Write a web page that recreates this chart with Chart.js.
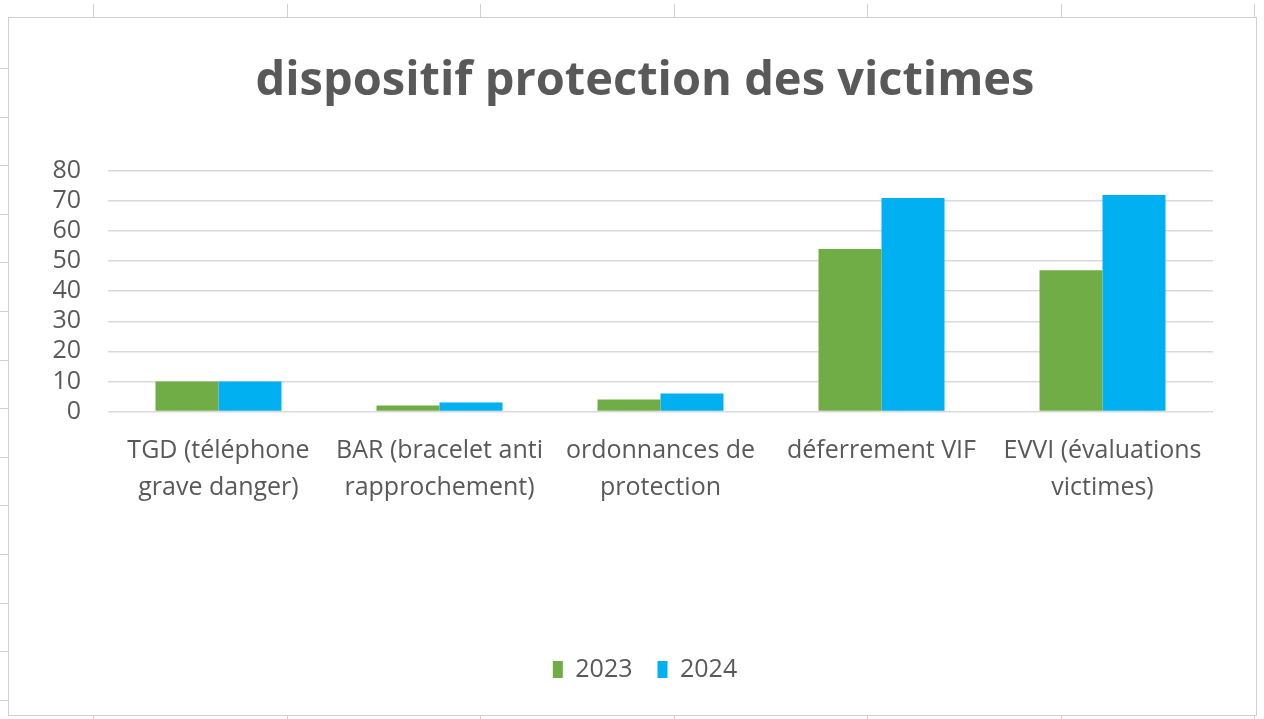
<!DOCTYPE html>
<html lang="fr">
<head>
<meta charset="utf-8">
<title>dispositif protection des victimes</title>
<script src="https://cdn.jsdelivr.net/npm/chart.js@4.4.1/dist/chart.umd.min.js"></script>
<style>
  html, body { margin: 0; padding: 0; background: #ffffff; }
  #wrap { position: relative; width: 1264px; height: 719px; }
</style>
</head>
<body>
<div id="wrap"><canvas id="protectionChart" width="1264" height="719"></canvas></div>
<script>
const categories = [
  ["TGD (téléphone", "grave danger)"],
  ["BAR (bracelet anti", "rapprochement)"],
  ["ordonnances de", "protection"],
  "déferrement VIF",
  ["EVVI (évaluations", "victimes)"],
];
const values2023 = [10, 2, 4, 54, 47];
const values2024 = [10, 3, 6, 71, 72];
const seriesLabels = ["2023", "2024"];
const yTicks = [0, 10, 20, 30, 40, 50, 60, 70, 80];

const TEXT_COLOR = "#595959";
const GRID_COLOR = "#d9d9d9";
const FONT = "'Open Sans', Lato, sans-serif";

// spreadsheet frame around the chart object
const sheetFrame = {
  id: "sheetFrame",
  beforeDraw(chart) {
    const { ctx, width, height } = chart;
    ctx.save();
    ctx.fillStyle = "#ffffff";
    ctx.fillRect(0, 0, width, height);
    ctx.strokeStyle = "#d0d0d0";
    ctx.lineWidth = 1;
    ctx.strokeRect(8.5, 17.5, width - 16, height - 21);
    ctx.beginPath();
    for (let x = 93; x < width; x += 193.5) {
      ctx.moveTo(Math.round(x) + 0.5, 4);
      ctx.lineTo(Math.round(x) + 0.5, 17);
      ctx.moveTo(Math.round(x) + 0.5, height - 4);
      ctx.lineTo(Math.round(x) + 0.5, height);
    }
    for (let y = 68; y < height - 10; y += 48.6) {
      ctx.moveTo(0, Math.round(y) + 0.5);
      ctx.lineTo(8, Math.round(y) + 0.5);
    }
    ctx.stroke();
    ctx.restore();
  },
};

new Chart(document.getElementById("protectionChart"), {
  type: "bar",
  data: {
    labels: categories,
    datasets: [
      {
        label: seriesLabels[0],
        data: values2023,
        backgroundColor: "#70ad47",
        borderWidth: 0,
      },
      {
        label: seriesLabels[1],
        data: values2024,
        backgroundColor: "#00b0f0",
        borderWidth: 0,
      },
    ],
  },
  options: {
    responsive: false,
    animation: false,
    devicePixelRatio: 1,
    layout: { padding: { left: 26, right: 0, top: 0, bottom: 27 } },
    datasets: {
      bar: { categoryPercentage: 0.57, barPercentage: 1 },
    },
    scales: {
      x: {
        grid: { display: false, drawTicks: false },
        border: { display: false },
        ticks: {
          color: TEXT_COLOR,
          font: { family: FONT, size: 25, lineHeight: 1.48 },
          padding: 21,
          maxRotation: 0,
          autoSkip: false,
        },
        afterFit(scale) {
          scale.height = 220.5;
        },
      },
      y: {
        min: 0,
        max: 80,
        afterBuildTicks(scale) {
          scale.ticks = yTicks.map((v) => ({ value: v }));
        },
        grid: { color: GRID_COLOR, lineWidth: 1.5, drawTicks: false },
        border: { display: false },
        ticks: {
          color: TEXT_COLOR,
          font: { family: FONT, size: 25, lineHeight: 1 },
          padding: 27,
          autoSkip: false,
        },
        afterFit(scale) {
          scale.width = 82;
        },
      },
      // empty right margin so the title and legend stay centred like the original
      yRight: {
        position: "right",
        display: true,
        grid: { display: false, drawTicks: false },
        border: { display: false },
        ticks: { display: false },
        afterFit(scale) {
          scale.width = 51;
        },
      },
    },
    plugins: {
      title: {
        display: true,
        text: "dispositif protection des victimes",
        color: TEXT_COLOR,
        font: { family: FONT, size: 47, weight: "bold", lineHeight: 1.2 },
        padding: { top: 53, bottom: 61.5 },
      },
      legend: {
        position: "bottom",
        labels: {
          color: TEXT_COLOR,
          font: { family: FONT, size: 25 },
          boxWidth: 10,
          boxHeight: 17,
          padding: 25,
        },
      },
      tooltip: { enabled: false },
    },
  },
  plugins: [sheetFrame],
});
</script>
</body>
</html>
